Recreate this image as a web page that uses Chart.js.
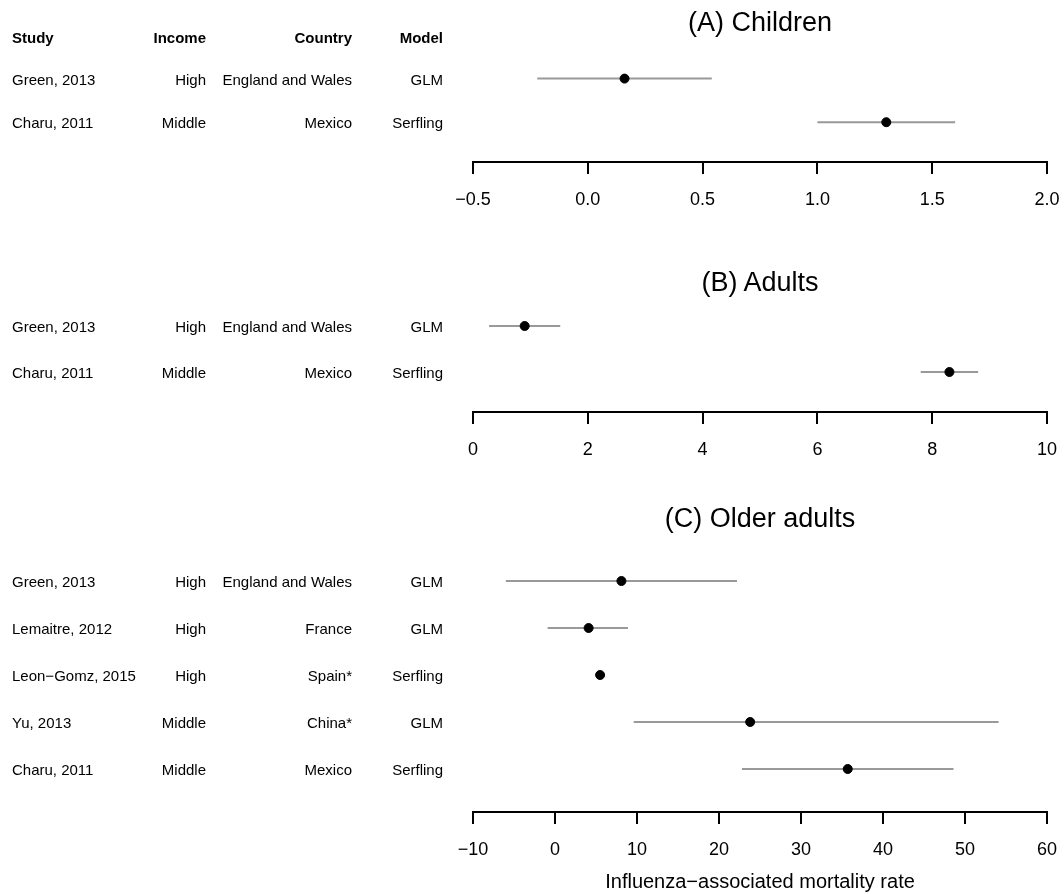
<!DOCTYPE html>
<html>
<head>
<meta charset="utf-8">
<title>Influenza-associated mortality rate</title>
<script src="https://cdn.jsdelivr.net/npm/chart.js@4.4.1/dist/chart.umd.min.js"></script>
<style>
    html, body { margin: 0; padding: 0; background: #fff; }
    #page { position: relative; width: 1064px; height: 894px; overflow: hidden;
            font-family: 'Liberation Sans', Arial, sans-serif; color: #000; }
    #page canvas { position: absolute; left: 0; }
    .cell { position: absolute; font-size: 15px; line-height: 1; white-space: nowrap;
            transform: translateY(-50%); }
    .cell.head { font-weight: bold; }
    .title { position: absolute; font-size: 27px; line-height: 1; white-space: nowrap;
             transform: translate(-50%, -50%); }
</style>
</head>
<body>
<div id="page">
    <canvas id="childrenChart" width="1064" height="220" style="top:0px"></canvas>
    <canvas id="adultsChart" width="1064" height="230" style="top:240px"></canvas>
    <canvas id="olderChart" width="1064" height="414" style="top:480px"></canvas>
</div>
<script>
'use strict';

// ============================================================================
// Data
// ============================================================================

const headers = ['Study', 'Income', 'Country', 'Model'];

// (A) Children
const childStudy = ['Green, 2013', 'Charu, 2011'];
const childIncome = ['High', 'Middle'];
const childCountry = ['England and Wales', 'Mexico'];
const childModel = ['GLM', 'Serfling'];
const childEst = [0.16, 1.30];
const childLo = [-0.22, 1.00];
const childHi = [0.54, 1.60];
const childTicks = [-0.5, 0, 0.5, 1, 1.5, 2];

// (B) Adults
const adultStudy = ['Green, 2013', 'Charu, 2011'];
const adultIncome = ['High', 'Middle'];
const adultCountry = ['England and Wales', 'Mexico'];
const adultModel = ['GLM', 'Serfling'];
const adultEst = [0.9, 8.3];
const adultLo = [0.28, 7.8];
const adultHi = [1.52, 8.8];
const adultTicks = [0, 2, 4, 6, 8, 10];

// (C) Older adults
const olderStudy = ['Green, 2013', 'Lemaitre, 2012', 'Leon\u2212Gomz, 2015', 'Yu, 2013', 'Charu, 2011'];
const olderIncome = ['High', 'High', 'High', 'Middle', 'Middle'];
const olderCountry = ['England and Wales', 'France', 'Spain*', 'China*', 'Mexico'];
const olderModel = ['GLM', 'GLM', 'Serfling', 'GLM', 'Serfling'];
const olderEst = [8.1, 4.1, 5.5, 23.8, 35.7];
const olderLo = [-6.0, -0.9, null, 9.6, 22.8];
const olderHi = [22.2, 8.9, null, 54.1, 48.6];
const olderTicks = [-10, 0, 10, 20, 30, 40, 50, 60];

const xTitle = 'Influenza\u2212associated mortality rate';

// ============================================================================
// Layout
// ============================================================================

const FONT = "'Liberation Sans', Arial, sans-serif";
const PAGE_W = 1064;
const AREA_LEFT = 473;
const AREA_RIGHT = 1047;
const TITLE_X = (AREA_LEFT + AREA_RIGHT) / 2;

// column anchors: Study is left aligned, the others right aligned
const colX = [12, 206, 352, 443];

Chart.defaults.font.family = FONT;
Chart.defaults.color = '#000';

const panels = [
    {
        canvasId: 'childrenChart', title: '(A) Children', canvasTop: 0, titleY: 22,
        areaTop: 35, areaBottom: 162, rowGap: 43.6, decimals: 1, showHeader: true,
        study: childStudy, income: childIncome, country: childCountry, model: childModel,
        est: childEst, lo: childLo, hi: childHi, ticks: childTicks
    },
    {
        canvasId: 'adultsChart', title: '(B) Adults', canvasTop: 240, titleY: 282,
        areaTop: 40, areaBottom: 172, rowGap: 46, decimals: 0,
        study: adultStudy, income: adultIncome, country: adultCountry, model: adultModel,
        est: adultEst, lo: adultLo, hi: adultHi, ticks: adultTicks
    },
    {
        canvasId: 'olderChart', title: '(C) Older adults', canvasTop: 480, titleY: 518,
        areaTop: 54, areaBottom: 332, rowGap: 47, decimals: 0, axisTitle: xTitle,
        study: olderStudy, income: olderIncome, country: olderCountry, model: olderModel,
        est: olderEst, lo: olderLo, hi: olderHi, ticks: olderTicks
    }
];

// ============================================================================
// Helpers
// ============================================================================

/**
 * Format a tick value the way R does (true minus sign)
 */
function formatTick(value, decimals) {
    return value.toFixed(decimals).replace('-', '\u2212');
}

/**
 * Add one text cell to the page
 */
function addCell(text, x, y, alignRight, cls) {
    const el = document.createElement('div');
    el.className = cls;
    el.textContent = text;
    el.style.top = y + 'px';
    if (alignRight) {
        el.style.right = (PAGE_W - x) + 'px';
    } else {
        el.style.left = x + 'px';
    }
    document.getElementById('page').appendChild(el);
}

// ============================================================================
// Chart Creation
// ============================================================================

function createForestPanel(p) {
    const canvas = document.getElementById(p.canvasId);
    const axisHeight = p.axisTitle ? 82 : 49;
    const nRows = p.est.length;

    const points = p.est.map((v, i) => ({ x: v, y: i + 1 }));
    const intervals = [];
    p.est.forEach((_, i) => {
        if (p.lo[i] === null) return;
        intervals.push({
            data: [{ x: p.lo[i], y: i + 1 }, { x: p.hi[i], y: i + 1 }],
            showLine: true,
            borderColor: '#999999',
            borderWidth: 2,
            pointRadius: 0,
            order: 1
        });
    });

    const chart = new Chart(canvas, {
        type: 'scatter',
        data: {
            datasets: [
                {
                    data: points,
                    backgroundColor: '#000',
                    borderColor: '#000',
                    borderWidth: 1,
                    pointRadius: 4.5,
                    order: 0
                },
                ...intervals
            ]
        },
        options: {
            responsive: false,
            animation: false,
            events: [],
            layout: {
                padding: {
                    left: AREA_LEFT,
                    right: PAGE_W - AREA_RIGHT,
                    top: p.areaTop,
                    bottom: canvas.height - p.areaBottom - axisHeight
                }
            },
            plugins: {
                legend: { display: false },
                tooltip: { enabled: false }
            },
            scales: {
                x: {
                    type: 'linear',
                    min: p.ticks[0],
                    max: p.ticks[p.ticks.length - 1],
                    afterBuildTicks: (scale) => {
                        scale.ticks = p.ticks.map(v => ({ value: v }));
                    },
                    afterFit: (scale) => {
                        // labels already fit inside the layout padding
                        scale.height = axisHeight;
                        scale.paddingLeft = 0;
                        scale.paddingRight = 0;
                    },
                    ticks: {
                        autoSkip: false,
                        maxRotation: 0,
                        padding: 15,
                        color: '#000',
                        font: { size: 18, lineHeight: '22px' },
                        callback: (value) => formatTick(value, p.decimals)
                    },
                    grid: {
                        drawOnChartArea: false,
                        drawTicks: true,
                        tickLength: 12,
                        color: '#000',
                        lineWidth: 2
                    },
                    border: { display: true, color: '#000', width: 2 },
                    title: {
                        display: !!p.axisTitle,
                        text: p.axisTitle || '',
                        color: '#000',
                        font: { size: 20, lineHeight: '24px' },
                        padding: { top: 9, bottom: 0 }
                    }
                },
                y: {
                    type: 'linear',
                    display: false,
                    reverse: true,
                    min: 0,
                    max: (p.areaBottom - p.areaTop) / p.rowGap
                }
            }
        }
    });

    // panel title
    const t = document.createElement('div');
    t.className = 'title';
    t.textContent = p.title;
    t.style.left = TITLE_X + 'px';
    t.style.top = p.titleY + 'px';
    document.getElementById('page').appendChild(t);

    // table rows, aligned to the chart's own row positions
    for (let i = 0; i < nRows; i++) {
        const y = p.canvasTop + chart.scales.y.getPixelForValue(i + 1);
        addCell(p.study[i], colX[0], y, false, 'cell');
        addCell(p.income[i], colX[1], y, true, 'cell');
        addCell(p.country[i], colX[2], y, true, 'cell');
        addCell(p.model[i], colX[3], y, true, 'cell');
    }

    if (p.showHeader) {
        headers.forEach((h, j) => addCell(h, colX[j], 37, j > 0, 'cell head'));
    }

    return chart;
}

const forestCharts = panels.map(createForestPanel);
</script>
</body>
</html>
